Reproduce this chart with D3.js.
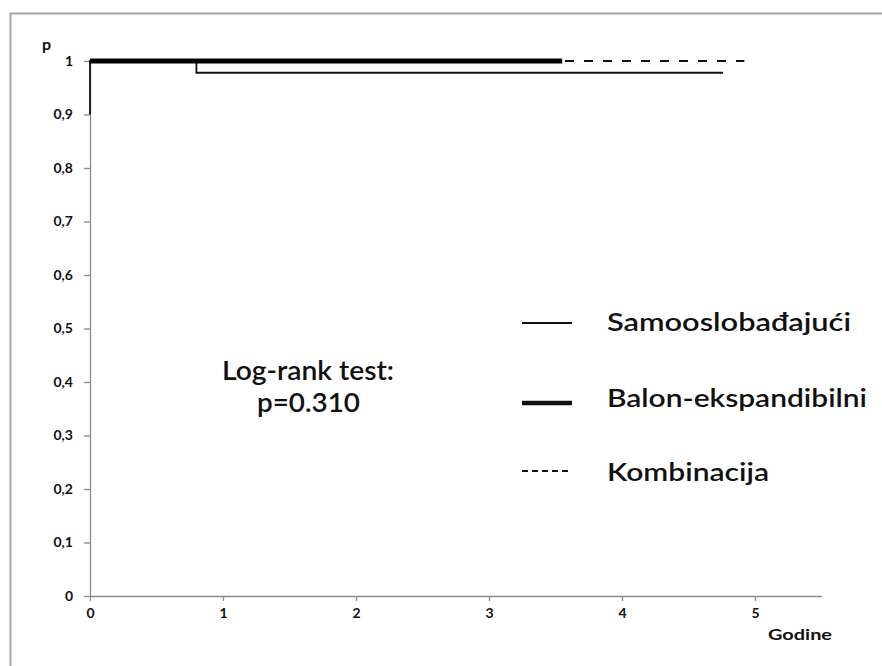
<!DOCTYPE html>
<html>
<head>
<meta charset="utf-8">
<script src="https://cdn.jsdelivr.net/npm/d3@7"></script>
<style>
  html, body { margin: 0; padding: 0; background: #fff; }
  svg { display: block; }
  text { font-family: Lato, "Open Sans", sans-serif; fill: #111; }
</style>
</head>
<body>
<svg id="chart" width="882" height="666"></svg>
<script>
// ---- data ----
const xTicks = [0, 1, 2, 3, 4, 5];
const yTicks = [0, 0.1, 0.2, 0.3, 0.4, 0.5, 0.6, 0.7, 0.8, 0.9, 1];
const yTickLabels = ["0", "0,1", "0,2", "0,3", "0,4", "0,5", "0,6", "0,7", "0,8", "0,9", "1"];

const seriesNames = ["Samooslobađajući", "Balon-ekspandibilni", "Kombinacija"];
// Kaplan-Meier step points (time in years, survival)
const samoTime = [0, 0, 0.80, 0.80, 4.76];
const samoSurv = [0.9, 1, 1, 0.978, 0.978];
const balonTime = [0, 3.55];
const balonSurv = [1, 1];
const kombTime = [0, 4.92];
const kombSurv = [1, 1];

const xLabel = "Godine";
const yLabel = "p";
const testLines = ["Log-rank test:", "p=0.310"];

// ---- layout ----
const svg = d3.select("#chart");
const x = d3.scaleLinear().domain([0, 5.5]).range([90, 821.5]);
const y = d3.scaleLinear().domain([0, 1]).range([596, 61]);

// outer frame
svg.append("rect")
  .attr("x", 10.5).attr("y", 13.5).attr("width", 900).attr("height", 700)
  .attr("fill", "none").attr("stroke", "#a6a6a6").attr("stroke-width", 2);

// axes
const xAxis = d3.axisBottom(x).tickValues(xTicks).tickFormat(d3.format("d")).tickSize(5).tickSizeOuter(0);
const yAxis = d3.axisLeft(y).tickValues(yTicks).tickFormat((d, i) => yTickLabels[i]).tickSize(6).tickSizeOuter(0);

const gx = svg.append("g").attr("transform", `translate(0,${y(0)})`).call(xAxis);
const gy = svg.append("g").attr("transform", `translate(${x(0)},0)`).call(yAxis);

[gx, gy].forEach(g => {
  g.select(".domain").attr("stroke", "#8c8c8c").attr("stroke-width", 1.3);
  g.selectAll(".tick line").attr("stroke", "#8c8c8c").attr("stroke-width", 1.3);
  g.selectAll(".tick text")
    .attr("font-family", "Lato, sans-serif")
    .attr("font-size", 14).attr("font-weight", 700).attr("fill", "#222");
});
gx.selectAll(".tick text").attr("y", 18).attr("dy", "0.32em");
gy.selectAll(".tick text").attr("x", -17);

// axis titles
svg.append("text").attr("x", 42).attr("y", 50)
  .attr("font-size", 16).attr("font-weight", 700).text(yLabel);
svg.append("text").attr("x", 768).attr("y", 640)
  .attr("font-size", 15).attr("font-weight", 700)
  .attr("textLength", 64).attr("lengthAdjust", "spacingAndGlyphs").text(xLabel);

// curves
const line = d3.line().x(d => x(d[0])).y(d => y(d[1])).curve(d3.curveLinear);
const zip = (t, s) => t.map((v, i) => [v, s[i]]);

svg.append("path").datum(zip(kombTime, kombSurv))
  .attr("d", line).attr("fill", "none").attr("stroke", "#111")
  .attr("stroke-width", 2).attr("stroke-dasharray", "9,10");
svg.append("path").datum(zip(samoTime, samoSurv))
  .attr("d", line).attr("fill", "none").attr("stroke", "#111")
  .attr("stroke-width", 1.8);
svg.append("path").datum(zip(balonTime, balonSurv))
  .attr("d", line).attr("fill", "none").attr("stroke", "#000")
  .attr("stroke-width", 5);

// legend
const legendStyles = [
  { w: 1.8, dash: null },
  { w: 4.5, dash: null },
  { w: 1.8, dash: "6,4" }
];
const legendLineY = [323, 403, 471];
const legendTextY = [331, 407, 481];
const legendTextW = [244, 260, 162];
seriesNames.forEach((name, i) => {
  svg.append("line")
    .attr("x1", 522).attr("x2", 572)
    .attr("y1", legendLineY[i]).attr("y2", legendLineY[i])
    .attr("stroke", "#111").attr("stroke-width", legendStyles[i].w)
    .attr("stroke-dasharray", legendStyles[i].dash);
  svg.append("text").attr("x", 607).attr("y", legendTextY[i])
    .attr("font-size", 25).attr("font-weight", 600)
    .attr("textLength", legendTextW[i]).attr("lengthAdjust", "spacingAndGlyphs")
    .text(name);
});

// test annotation (centred at x = 308)
svg.append("text").attr("x", 222).attr("y", 380)
  .attr("font-size", 26).attr("font-weight", 600)
  .attr("textLength", 172).attr("lengthAdjust", "spacingAndGlyphs").text(testLines[0]);
svg.append("text").attr("x", 257).attr("y", 412)
  .attr("font-size", 26).attr("font-weight", 600)
  .attr("textLength", 103).attr("lengthAdjust", "spacingAndGlyphs").text(testLines[1]);
</script>
</body>
</html>
